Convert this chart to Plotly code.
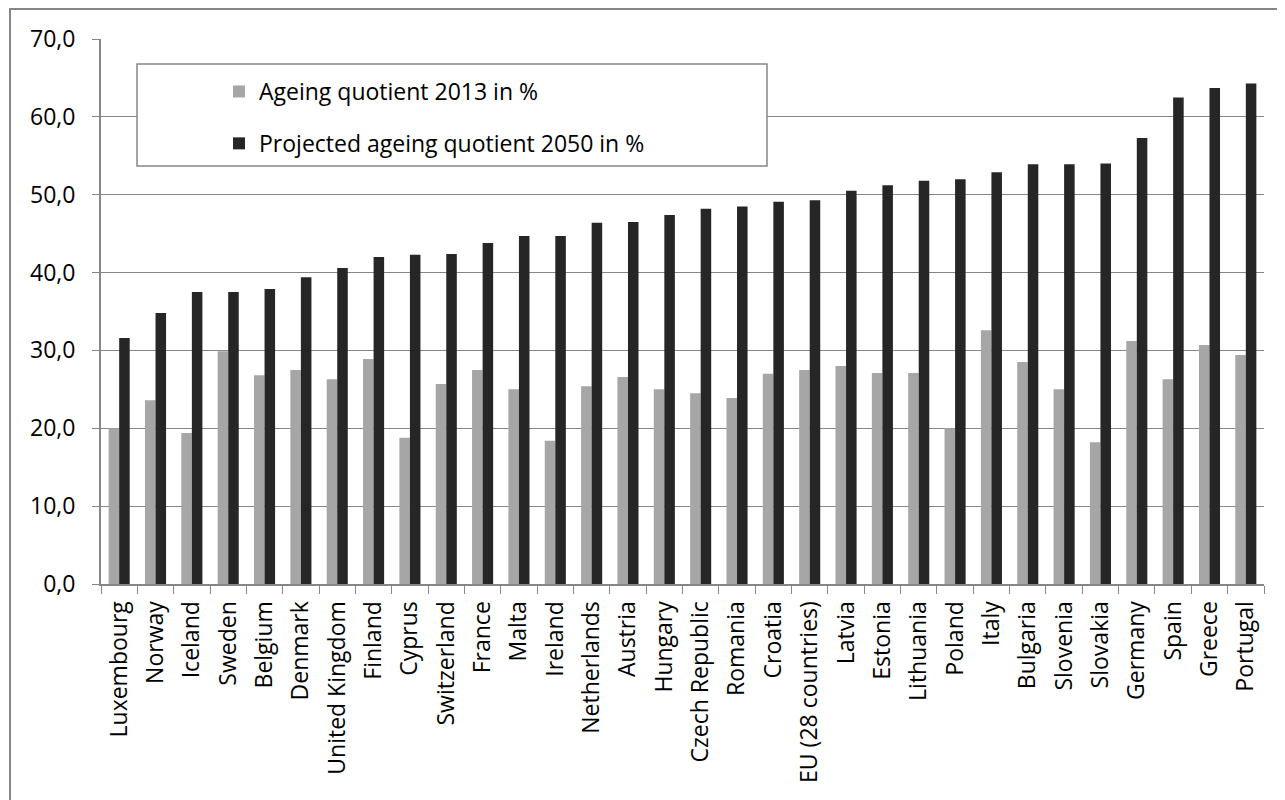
import plotly.graph_objects as go

countries = ["Luxembourg", "Norway", "Iceland", "Sweden", "Belgium", "Denmark",
             "United Kingdom", "Finland", "Cyprus", "Switzerland", "France", "Malta",
             "Ireland", "Netherlands", "Austria", "Hungary", "Czech Republic", "Romania",
             "Croatia", "EU (28 countries)", "Latvia", "Estonia", "Lithuania", "Poland",
             "Italy", "Bulgaria", "Slovenia", "Slovakia", "Germany", "Spain", "Greece",
             "Portugal"]

ageing_2013 = [20.0, 23.6, 19.4, 29.9, 26.8, 27.5, 26.3, 28.9, 18.8, 25.7, 27.5, 25.0,
               18.4, 25.4, 26.6, 25.0, 24.5, 23.9, 27.0, 27.5, 28.0, 27.1, 27.1, 20.0,
               32.6, 28.5, 25.0, 18.2, 31.2, 26.3, 30.7, 29.4]

ageing_2050 = [31.6, 34.8, 37.5, 37.5, 37.9, 39.4, 40.6, 42.0, 42.3, 42.4, 43.8, 44.7,
               44.7, 46.4, 46.5, 47.4, 48.2, 48.5, 49.1, 49.3, 50.5, 51.2, 51.8, 52.0,
               52.9, 53.9, 53.9, 54.0, 57.3, 62.5, 63.7, 64.3]

series_names = ["Ageing quotient 2013 in %", "Projected ageing quotient 2050 in %"]

FONT = "Open Sans"
GRID = "#868686"

fig = go.Figure()
fig.add_trace(go.Bar(x=countries, y=ageing_2013, name=series_names[0],
                     marker=dict(color="#a6a6a6", line=dict(width=0)),
                     legendgroup="a"))
fig.add_trace(go.Bar(x=countries, y=ageing_2050, name=series_names[1],
                     marker=dict(color="#262626", line=dict(width=0)),
                     legendgroup="b"))

# page is rendered with an 8px body margin
OFF = 8
W, H = 1285 - OFF, 800 - OFF
PL, PR, PT, PB = 101, 1264, 39, 584  # plot area in page pixels
L = PL - OFF
T = PT - OFF
R = (OFF + W) - PR
B = (OFF + H) - PB

def px(x):
    return (x - PL) / (PR - PL)

def py(y):
    return (PB - y) / (PB - PT)

fig.update_layout(
    width=W, height=H,
    margin=dict(l=L, r=R, t=T, b=B, pad=0),
    paper_bgcolor="white", plot_bgcolor="white",
    separators=",.",
    barmode="group", bargap=0.42, bargroupgap=0,
    font=dict(family=FONT, size=22, color="#000000"),
    showlegend=True,
    legend=dict(x=px(219), y=py(70), xanchor="left", yanchor="top",
                bgcolor="rgba(0,0,0,0)", borderwidth=0,
                font=dict(family=FONT, size=23, color="#000000"),
                tracegroupgap=19, traceorder="grouped"),
    shapes=[
        dict(type="rect", xref="paper", yref="paper",
             x0=px(10), x1=px(1300), y0=py(9), y1=py(820),
             line=dict(color=GRID, width=2), fillcolor="rgba(0,0,0,0)", layer="below"),
        dict(type="rect", xref="paper", yref="paper",
             x0=px(137), x1=px(767), y0=py(64), y1=py(166),
             line=dict(color=GRID, width=1.5), fillcolor="white", layer="above"),
    ],
)

fig.update_yaxes(range=[0, 70], dtick=10, tickformat=".1f",
                 showgrid=True, gridcolor=GRID, gridwidth=1.3,
                 showline=True, linecolor=GRID, linewidth=2,
                 ticks="outside", ticklen=7, tickcolor=GRID, tickwidth=1.3,
                 tickfont=dict(family=FONT, size=23, color="#000000"),
                 zeroline=False, ticklabelstandoff=12)

fig.update_xaxes(showline=True, linecolor=GRID, linewidth=2,
                 ticks="outside", ticklen=8, tickcolor=GRID, tickwidth=1.3,
                 tickson="boundaries", tickangle=-90,
                 tickfont=dict(family=FONT, size=23, color="#000000"),
                 showgrid=False, ticklabelstandoff=6)

fig.write_html("out.html")
